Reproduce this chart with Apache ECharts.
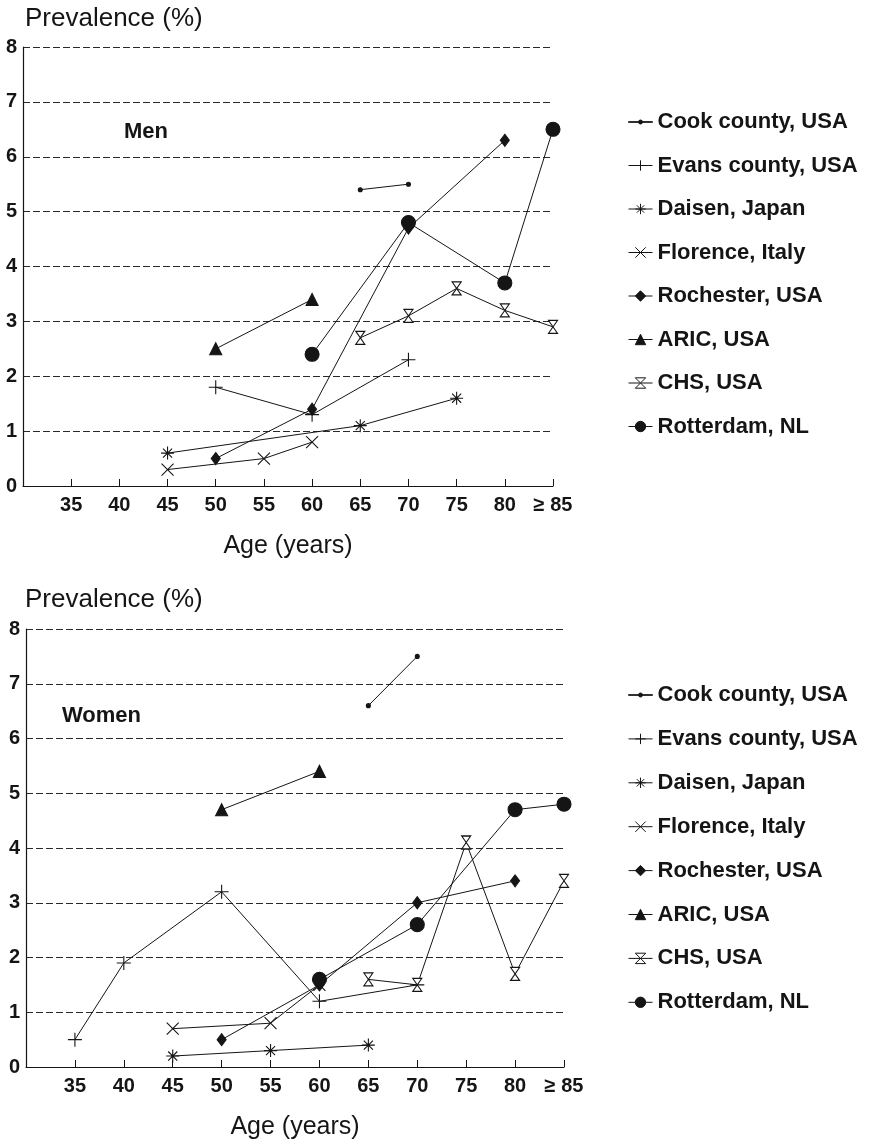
<!DOCTYPE html>
<html>
<head>
<meta charset="utf-8">
<script src="https://cdn.jsdelivr.net/npm/echarts@6/dist/echarts.min.js"></script>
<style>
  html, body { margin: 0; padding: 0; background: #fff; }
  #chart { width: 877px; height: 1146px; }
</style>
</head>
<body>
<div id="chart"></div>
<script>
var names = ['Cook county, USA', 'Evans county, USA', 'Daisen, Japan', 'Florence, Italy',
             'Rochester, USA', 'ARIC, USA', 'CHS, USA', 'Rotterdam, NL'];
var ageTicks = [35, 40, 45, 50, 55, 60, 65, 70, 75, 80, 85];
var ageLabels = ['35', '40', '45', '50', '55', '60', '65', '70', '75', '80', '\u2265 85'];

// men, [age, prevalence %]
var menCook = [[65, 5.4], [70, 5.5]];
var menEvans = [[50, 1.8], [60, 1.3], [70, 2.3]];
var menDaisen = [[45, 0.6], [65, 1.1], [75, 1.6]];
var menFlorence = [[45, 0.3], [55, 0.5], [60, 0.8]];
var menRochester = [[50, 0.5], [60, 1.4], [70, 4.7], [80, 6.3]];
var menAric = [[50, 2.5], [60, 3.4]];
var menChs = [[65, 2.7], [70, 3.1], [75, 3.6], [80, 3.2], [85, 2.9]];
var menRotterdam = [[60, 2.4], [70, 4.8], [80, 3.7], [85, 6.5]];

// women
var womenCook = [[65, 6.6], [70, 7.5]];
var womenEvans = [[35, 0.5], [40, 1.9], [50, 3.2], [60, 1.2], [70, 1.5]];
var womenDaisen = [[45, 0.2], [55, 0.3], [65, 0.4]];
var womenFlorence = [[45, 0.7], [55, 0.8], [60, 1.5]];
var womenRochester = [[50, 0.5], [60, 1.5], [70, 3.0], [80, 3.4]];
var womenAric = [[50, 4.7], [60, 5.4]];
var womenChs = [[65, 1.6], [70, 1.5], [75, 4.1], [80, 1.7], [85, 3.4]];
var womenRotterdam = [[60, 1.6], [70, 2.6], [80, 4.7], [85, 4.8]];

var menData = [menCook, menEvans, menDaisen, menFlorence, menRochester, menAric, menChs, menRotterdam];
var womenData = [womenCook, womenEvans, womenDaisen, womenFlorence, womenRochester, womenAric, womenChs, womenRotterdam];

var font = 'Liberation Sans, Arial, Helvetica, sans-serif';
var ink = '#151515';

// marker per study
var plusPath = 'path://M0,5L10,5M5,0L5,10';
var crossPath = 'path://M0,0L10,10M10,0L0,10';
var starPath = 'path://M0,5L10,5M5,0L5,10M1.5,1.5L8.5,8.5M8.5,1.5L1.5,8.5';
var glassPath = 'path://M0,0L10,0L0,14L10,14Z';
var markers = [
  { symbol: 'circle', size: 4, fill: ink },
  { symbol: plusPath, size: 14, fill: ink },
  { symbol: starPath, size: 13, fill: ink },
  { symbol: crossPath, size: 12, fill: ink },
  { symbol: 'diamond', size: [9, 12], fill: ink },
  { symbol: 'triangle', size: 12, fill: ink },
  { symbol: glassPath, size: [9, 13], fill: '#fff' },
  { symbol: 'circle', size: 14, fill: ink }
];

function makeSeries(data, idx) {
  return data.map(function(pts, i) {
    var m = markers[i];
    return {
      name: names[i],
      type: 'line',
      xAxisIndex: idx,
      yAxisIndex: idx,
      data: pts,
      symbol: m.symbol,
      symbolSize: m.size,
      showAllSymbol: true,
      lineStyle: { color: ink, width: 1 },
      itemStyle: { color: m.fill, borderColor: ink, borderWidth: 1.1 },
      emphasis: { disabled: true }
    };
  });
}

function xAxis(grid) {
  return {
    type: 'value', gridIndex: grid, min: 30, max: 85, interval: 5,
    name: 'Age (years)', nameLocation: 'middle', nameGap: 48,
    nameTextStyle: { fontFamily: font, fontSize: 25, color: ink },
    axisLine: { lineStyle: { color: ink, width: 1.2 } },
    axisTick: { inside: true, length: 7, lineStyle: { color: ink } },
    axisLabel: {
      margin: 9, fontFamily: font, fontSize: 20, fontWeight: 'bold', color: ink,
      formatter: function(v) { var k = ageTicks.indexOf(v); return k < 0 ? '' : ageLabels[k]; }
    },
    splitLine: { show: false }
  };
}

function yAxis(grid) {
  return {
    type: 'value', gridIndex: grid, min: 0, max: 8, interval: 1,
    axisLine: { show: true, lineStyle: { color: ink, width: 1.2 } },
    axisTick: { show: false },
    axisLabel: { margin: 6, fontFamily: font, fontSize: 20, fontWeight: 'bold', color: ink },
    splitLine: { lineStyle: { color: '#2a2a2a', width: 1, type: [7, 3] } }
  };
}

var cookIcon = 'path://M0,6.6L24,6.6L24,7.2L0,7.2ZM12,4.9A2,2 0 1 1 12,8.9A2,2 0 1 1 12,4.9Z';
var legendData = names.map(function(n, i) { return i === 0 ? { name: n, icon: cookIcon } : n; });

function legend(top, gap) {
  return {
    orient: 'vertical', left: 628, top: top, padding: 0,
    itemWidth: 24, itemHeight: 13, itemGap: gap,
    selectedMode: false,
    data: legendData,
    lineStyle: { width: 1 },
    itemStyle: { borderWidth: 1 },
    textStyle: { fontFamily: font, fontSize: 22, fontWeight: 'bold', color: ink, lineHeight: 20 }
  };
}

var chart = echarts.init(document.getElementById('chart'), null, { renderer: 'canvas' });
chart.setOption({
  animation: false,
  backgroundColor: '#fff',
  title: [
    { text: 'Prevalence (%)', left: 25, top: 6, padding: 0, textStyle: { fontFamily: font, fontSize: 26, fontWeight: 'normal', color: ink } },
    { text: 'Men', left: 124, top: 121, padding: 0, textStyle: { fontFamily: font, fontSize: 22, fontWeight: 'bold', color: ink } },
    { text: 'Prevalence (%)', left: 25, top: 587, padding: 0, textStyle: { fontFamily: font, fontSize: 26, fontWeight: 'normal', color: ink } },
    { text: 'Women', left: 62, top: 705, padding: 0, textStyle: { fontFamily: font, fontSize: 22, fontWeight: 'bold', color: ink } }
  ],
  legend: [legend(111, 21.5), legend(684, 21.9)],
  grid: [
    { left: 23, top: 47, width: 530, height: 439 },
    { left: 26, top: 629, width: 538, height: 438 }
  ],
  xAxis: [xAxis(0), xAxis(1)],
  yAxis: [yAxis(0), yAxis(1)],
  series: makeSeries(menData, 0).concat(makeSeries(womenData, 1))
});
window.addEventListener('resize', function() { chart.resize(); });
</script>
</body>
</html>
